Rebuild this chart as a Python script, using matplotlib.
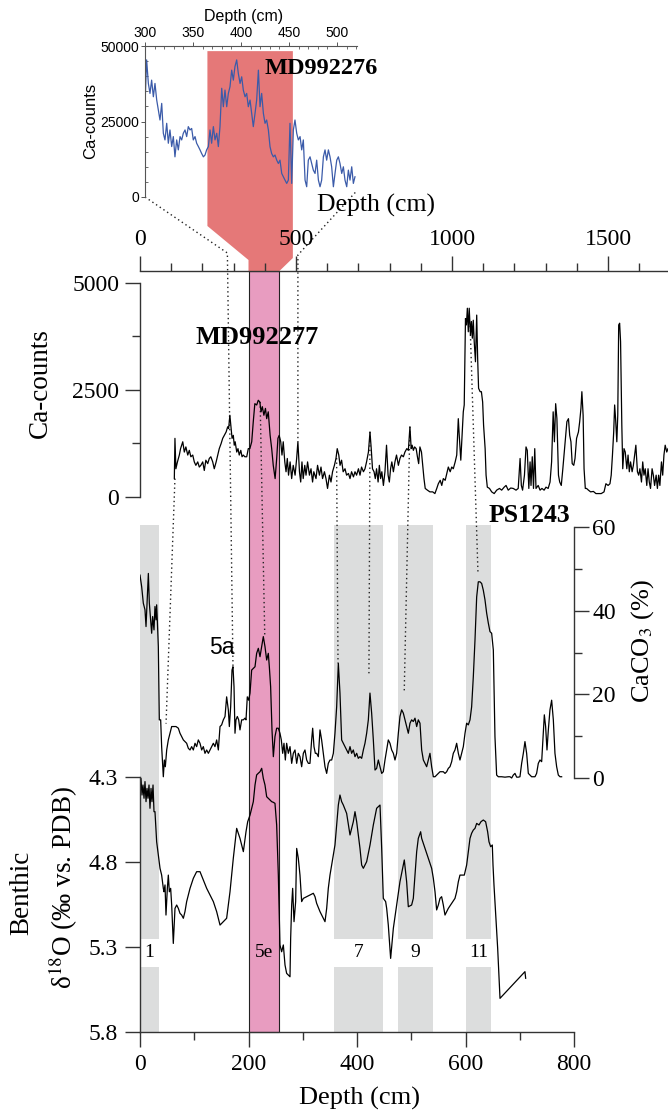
import numpy as np
import matplotlib
matplotlib.use("Agg")
import matplotlib.pyplot as plt
from matplotlib.patches import Polygon
from matplotlib.lines import Line2D
from matplotlib.transforms import blended_transform_factory
from matplotlib.ticker import MultipleLocator, FixedLocator

SERIF = ['Liberation Serif', 'DejaVu Serif']
SANS = ['Liberation Sans', 'DejaVu Sans']
plt.rcParams['font.family'] = SERIF
plt.rcParams['mathtext.fontset'] = 'stix'

# ---------------- data: MD992276 inset (depth cm, Ca counts) ----------------
in_depth = [300.0, 301.7, 303.5, 305.2, 306.9, 308.7, 310.4, 312.2, 313.9, 315.6,
            317.4, 319.1, 320.8, 322.6, 324.3, 326.0, 327.8, 329.5, 331.2, 333.0,
            334.7, 336.5, 338.2, 339.9, 341.7, 343.4, 345.1, 346.9, 348.6, 350.3,
            352.1, 353.8, 355.6, 357.3, 359.0, 360.8, 362.5, 364.2, 366.0, 367.7,
            369.4, 371.2, 372.9, 374.7, 376.4, 378.1, 379.9, 381.6, 383.3, 385.1,
            386.8, 388.5, 390.3, 392.0, 393.7, 395.5, 397.2, 399.0, 400.7, 402.4,
            404.2, 405.9, 407.6, 409.4, 411.1, 412.8, 414.6, 416.3, 418.1, 419.8,
            421.5, 423.3, 425.0, 426.7, 428.5, 430.2, 431.9, 433.7, 435.4, 437.2,
            438.9, 440.6, 442.4, 444.1, 445.8, 447.6, 449.3, 451.0, 452.8, 454.5,
            456.2, 458.0, 459.7, 461.5, 463.2, 464.9, 466.7, 468.4, 470.1, 471.9,
            473.6, 475.3, 477.1, 478.8, 480.6, 482.3, 484.0, 485.8, 487.5, 489.2,
            491.0, 492.7, 494.4, 496.2, 497.9, 499.7, 501.4, 503.1, 504.9, 506.6,
            508.3, 510.1, 511.8, 513.5, 515.3, 517.0, 518.7]
in_ca = [30500, 45400, 37600, 34300, 38700, 33200, 37600, 32100, 28800, 25500,
         31000, 21100, 18900, 24400, 17800, 22200, 16700, 20000, 13300, 18900,
         15600, 20000, 18900, 21100, 22200, 20000, 23300, 22200, 22700, 18900,
         20000, 17800, 16700, 15600, 14400, 13300, 13900, 15600, 16700, 22200,
         17800, 23300, 18900, 21100, 16700, 23300, 36000, 29900, 35400, 29900,
         34300, 36500, 42000, 38700, 43200, 45400, 40900, 37600, 39800, 35400,
         33200, 34300, 29900, 32100, 27700, 23300, 27700, 32100, 42000, 29900,
         34300, 27700, 24400, 25500, 22200, 16700, 14400, 13300, 13900, 12200,
         11100, 12200, 7800, 6700, 5600, 4500, 5600, 24400, 4500, 22200,
         25500, 21100, 18900, 20000, 15600, 18900, 5600, 3400, 12200, 13300,
         11100, 8900, 7800, 12200, 5600, 3400, 5600, 13300, 15600, 12200,
         15600, 13300, 10000, 3400, 7800, 12200, 13300, 11100, 7800, 10000,
         5600, 3400, 8900, 5600, 10000, 4500, 6700]
in_xticks = [300, 350, 400, 450, 500]
in_yticks = [0, 25000, 50000]
in_window = [365, 454]          # MD992276 depth interval highlighted in red
in_window_top = 48300

# ---------------- data: MD992277 Ca counts ----------------
md_depth = [110, 112, 115, 120, 126, 130, 137, 142, 147, 153,
            158, 163, 169, 174, 179, 185, 190, 195, 201, 206,
            211, 217, 222, 227, 233, 238, 244, 249, 254, 260,
            265, 270, 276, 281, 284, 288, 292, 295, 299, 302,
            305, 310, 314, 318, 323, 327, 331, 336, 342, 347,
            352, 358, 363, 368, 374, 379, 384, 388, 392, 397,
            402, 406, 411, 417, 422, 427, 433, 438, 442, 446,
            451, 455, 459, 464, 468, 472, 476, 481, 486, 491,
            497, 502, 506, 511, 515, 519, 523, 528, 532, 537,
            543, 548, 553, 557, 564, 569, 575, 580, 585, 591,
            596, 601, 607, 612, 617, 623, 628, 632, 637, 641,
            646, 651, 657, 662, 668, 673, 678, 684, 689, 694,
            700, 705, 710, 716, 721, 726, 732, 737, 741, 745,
            750, 754, 758, 763, 767, 771, 775, 780, 785, 790,
            795, 799, 803, 807, 812, 817, 822, 828, 833, 838,
            844, 849,
            855, 860, 865, 869, 872, 876, 880, 885, 889, 893,
            897, 902, 906, 910, 914, 921, 929, 938, 945, 951,
            956, 962, 967, 972, 978, 983, 988, 994, 999, 1004,
            1010, 1015, 1020, 1023, 1028, 1031, 1036, 1039, 1043, 1046,
            1049, 1052, 1055, 1059, 1062, 1065, 1068, 1071, 1075, 1079,
            1082, 1085, 1090, 1094, 1098, 1101, 1106, 1109, 1113, 1120,
            1127, 1135, 1143, 1152, 1159, 1167, 1173, 1180, 1188, 1196,
            1205, 1212, 1218, 1222, 1226, 1232, 1237, 1241, 1246, 1250,
            1253, 1257, 1261, 1265, 1269, 1276, 1282, 1288, 1295, 1301,
            1308, 1314, 1319, 1324, 1328, 1332, 1336, 1341, 1345, 1350,
            1355, 1360, 1364, 1368, 1373, 1377, 1381, 1385, 1390, 1394,
            1399, 1405, 1409, 1413, 1416, 1420, 1423, 1427, 1431, 1437,
            1444, 1453, 1461, 1470, 1478, 1487, 1493, 1500, 1506, 1510,
            1514, 1518, 1521, 1524, 1528, 1531, 1534, 1537, 1540, 1544,
            1547, 1551, 1555, 1560, 1564, 1568, 1572, 1577, 1581, 1585,
            1589, 1594, 1598, 1602, 1607, 1611, 1615, 1619, 1624, 1628,
            1632, 1636, 1641, 1645, 1649, 1654, 1658, 1662, 1666, 1671,
            1675, 1679, 1683, 1688, 1692]
md_ca = [430, 1370, 660, 820, 980, 1130, 1290, 1050, 1170, 980,
         1090, 940, 980, 820, 740, 820, 700, 740, 820, 620,
         860, 780, 900, 940, 820, 660, 820, 980, 1130, 1250,
         1370, 1440, 1520, 1640, 1600, 1910, 1600, 1370, 1440, 1210,
         1290, 1050, 1130, 980, 1090, 940, 980, 940, 940, 1130,
         1130, 1290, 1760, 2180, 2150, 2260, 2220, 1990, 2110, 1910,
         2070, 1830, 1990, 1440, 1130, 740, 430, 900, 1370, 1440,
         1290, 980, 1290, 820, 590, 900, 510, 820, 430, 740,
         510, 900, 1290, 590, 350, 820, 430, 740, 510, 820,
         510, 660, 350, 590, 430, 740, 510, 700, 430, 590,
         430, 200, 510, 350, 590, 740, 900, 1130, 980, 740,
         860, 590, 660, 510, 550, 430, 590, 470, 590, 510,
         660, 510, 700, 590, 660, 820, 1050, 1520, 1130, 660,
         590, 430, 660, 350, 740, 430, 590, 270, 590, 1210,
         510, 350, 660, 820, 590, 820, 980, 740, 900, 980,
         940, 1050,
         1130, 1090, 1640, 1130, 1210, 1090, 1170, 1130, 940, 780,
         1170, 1050, 740, 430, 200, 160, 120, 120, 80, 200,
         310, 390, 270, 430, 390, 550, 700, 590, 700, 660,
         820, 980, 1830, 1440, 860, 1290, 1990, 2150, 4170, 4020,
         4410, 3860, 4410, 3780, 4100, 3710, 4130, 3630, 3160, 4250,
         3240, 2540, 2460, 2460, 2220, 1680, 1130, 510, 230, 200,
         120, 80, 160, 200, 160, 230, 270, 160, 210, 200,
         160, 200, 900, 270, 160, 510, 1170, 1090, 200, 820,
         270, 940, 200, 1130, 200, 270, 160, 200, 160, 230,
         200, 350, 820, 1990, 1290, 2180, 1830, 510, 350, 270,
         660, 1090, 1440, 1760, 1830, 1440, 1290, 780, 740, 900,
         1370, 1520, 1760, 2070, 2460, 1910, 660, 200, 200, 160,
         120, 130, 80, 80, 80, 120, 310, 270, 310, 510,
         980, 1520, 2150, 1830, 1290, 1910, 4020, 4060, 3630, 1680,
         660, 1130, 1050, 660, 980, 590, 820, 590, 740, 980,
         1210, 590, 510, 660, 350, 820, 510, 660, 270, 660,
         350, 200, 660, 510, 270, 510, 200, 510, 270, 820,
         510, 980, 1210, 1050, 1130]
ca_xticks = [0, 500, 1000, 1500]
ca_yticks = [0, 2500, 5000]

# ---------------- data: PS1243 CaCO3 (%) ----------------
caco3_depth = [0.0, 3.1, 6.1, 9.2, 11.1, 13.5, 15.4, 17.2, 19.7, 21.5,
               23.3, 25.8, 27.6, 29.5, 30.7, 31.9, 33.8, 35.6, 38.1, 39.9,
               43.0, 44.9, 46.7, 49.2, 52.2, 55.3, 58.4, 61.4, 66.4, 70.7,
               73.7, 76.8, 79.9, 82.9, 86.0, 89.1, 92.2, 95.2, 98.3, 101.4,
               104.4, 107.5, 110.6, 113.7, 116.7, 119.8, 122.9, 126.0, 129.0, 132.1,
               135.2, 138.2, 141.3, 144.4, 147.5, 150.5, 153.6, 156.7, 159.7, 162.8,
               164.7, 167.1, 169.6, 171.4, 173.3, 175.1, 176.9, 179.4, 181.9, 184.3,
               187.4, 190.5, 193.5, 195.4, 197.8, 200.3, 202.8, 205.8, 208.9, 212.0,
               215.0, 218.1, 221.2, 224.3, 227.3, 230.4, 233.5, 236.5, 238.4, 240.8,
               243.3, 245.8, 248.8, 251.9, 255.0, 258.0, 260.5, 263.0, 265.4, 267.9,
               270.3, 273.4, 276.5, 279.6, 282.6, 285.7, 288.8, 291.8, 294.9, 298.0,
               301.1, 304.1, 307.2, 310.3, 313.3, 316.4, 318.3, 320.7, 323.2, 325.6,
               328.7, 331.8, 334.8, 337.9, 341.0, 344.1, 347.1, 350.2, 353.3, 356.4,
               359.4, 362.5, 365.6, 368.6, 371.7, 374.8, 377.9, 380.9, 384.0, 387.1,
               390.1, 393.2, 396.3, 399.4, 402.4, 405.5,
               408.6, 411.7, 414.7, 417.8, 420.9, 423.9, 427.0, 430.1, 433.2, 436.2,
               439.3, 442.4, 445.5, 448.5, 451.6, 454.7, 457.7, 460.8, 463.9, 467.0,
               470.0, 473.1, 476.2, 479.2, 482.3, 485.4, 488.5, 491.5, 494.6, 497.7,
               500.7, 503.8, 506.9, 510.0, 513.0, 516.1, 519.2, 522.3, 525.3, 528.4,
               531.5, 534.5, 537.6, 540.7, 543.8, 546.8, 549.9, 553.0, 556.0, 559.1,
               562.2, 565.3, 568.3, 571.4, 574.5, 577.5, 580.6, 583.7, 586.8, 589.8,
               592.9, 596.0, 599.1, 602.1, 605.2, 608.3, 611.3, 614.4, 617.5, 620.6,
               623.6, 626.7, 629.8, 632.8, 635.9, 639.0, 642.1, 645.1, 648.2, 651.3,
               654.3, 657.4, 660.5, 666.6, 672.8, 678.9, 682.0, 685.1, 688.1, 691.2,
               694.3, 697.4, 700.4, 703.5, 706.6, 709.6, 712.7, 715.8, 721.9, 728.1,
               731.1, 734.2, 737.3, 740.4, 743.4, 745.3, 747.7, 750.2, 752.7, 755.7,
               758.8, 761.9, 764.9, 768.0, 771.1, 774.2, 777.2]
caco3 = [48.5, 45.7, 41.8, 40.2, 36.2, 43.3, 48.9, 41.8, 37.8, 34.6,
         38.6, 35.4, 41.0, 37.8, 41.4, 37.8, 31.4, 13.9, 13.9, 7.5,
         0.3, 4.3, 2.7, 6.7, 9.1, 10.7, 12.3, 12.3, 12.3, 11.9,
         10.7, 9.9, 9.1, 8.7, 8.3, 7.1, 6.7, 7.5, 6.7, 8.3,
         7.5, 9.1, 8.3, 6.7, 7.5, 5.9, 6.7, 5.9, 6.7, 7.5,
         8.3, 7.5, 9.1, 6.7, 12.3, 12.7, 13.9, 14.7, 19.4, 16.3,
         12.3, 17.0, 25.8, 26.6, 21.8, 10.7, 13.9, 14.7, 13.9, 11.5,
         13.9, 13.9, 14.3, 13.9, 19.4, 18.6, 20.3, 25.8, 26.2, 26.6,
         29.8, 31.0, 29.0, 31.4, 33.8, 31.4, 28.2, 29.8, 26.6, 21.8,
         11.5, 5.1, 9.9, 11.9, 11.9, 10.7, 9.1, 5.9, 8.3, 4.3,
         8.3, 5.9, 7.5, 3.5, 5.9, 6.7, 3.5, 5.9, 5.1, 2.7,
         5.9, 6.7, 4.3, 3.5, 3.5, 9.1, 11.9, 7.5, 5.9, 5.9,
         5.1, 11.5, 9.1, 5.9, 2.7, 1.1, 3.5, 4.3, 4.3, 5.9,
         10.7, 17.0, 27.4, 20.3, 9.1, 8.3, 7.5, 6.7, 5.9, 7.5,
         5.9, 6.7, 5.1, 5.9, 4.7, 5.1,
         4.7, 6.7, 8.3, 10.7, 13.9, 20.3, 15.5, 9.1, 1.9, 2.3,
         4.3, 2.7, 1.1, 1.5, 4.3, 6.7, 9.1, 8.3, 6.7, 5.9,
         4.3, 5.9, 10.7, 14.7, 16.3, 15.5, 13.9, 12.3, 10.7, 13.1,
         13.9, 13.5, 14.3, 12.3, 13.9, 13.1, 6.7, 4.3, 3.5, 2.7,
         4.3, 5.9, 2.7, 0.3, 0.3, 0.7, 1.1, 1.5, 1.5, 1.5,
         1.1, 1.5, 2.3, 2.7, 3.9, 5.9, 6.7, 8.3, 5.9, 4.3,
         5.9, 7.5, 10.7, 13.1, 12.7, 13.9, 17.0, 24.2, 33.0, 43.3,
         46.9, 46.9, 46.5, 44.9, 42.6, 39.4, 37.0, 35.0, 34.6, 30.6,
         9.9, 0.7, 0.3, 0.3, 0.2, 0.3, 0.3, 0.0, 0.7, 1.1,
         0.2, 0.2, 0.3, 3.5, 5.9, 8.7, 5.9, 1.1, 0.3, 0.3,
         1.1, 3.5, 4.3, 3.9, 10.7, 15.1, 12.3, 6.7, 11.5, 16.3,
         18.6, 13.9, 5.9, 2.7, 0.7, 0.3, 0.3]
caco3_ticks = [0, 20, 40, 60]
caco3_minor = [10, 30, 50]

# ---------------- data: PS1243 benthic d18O ----------------
d18o_depth = [0.0, 1.8, 3.7, 5.5, 7.4, 9.2, 11.1, 12.9, 14.7, 16.6,
              18.4, 20.3, 22.1, 24.0, 25.8, 27.6, 30.7, 33.8, 36.9, 39.9,
              43.0, 44.2, 46.1, 47.9, 50.4, 52.2, 54.1, 56.5, 58.4, 61.4,
              64.5, 67.6, 70.7, 73.7, 76.8, 79.9, 82.9, 86.0, 92.2, 98.3,
              104.4, 110.6, 116.7, 122.9, 129.0, 135.2, 141.3, 147.5, 153.6, 159.7,
              165.9, 172.0, 178.2, 184.3, 190.5, 195.4, 198.5, 202.8, 208.9, 212.0,
              215.0, 218.1, 221.2, 224.3, 227.3, 230.4, 233.5, 236.5, 239.6, 242.7,
              245.8, 248.8, 251.9, 255.0, 258.0, 261.1, 264.2, 267.3, 270.3, 273.4,
              276.5, 277.7, 279.6, 281.4, 283.9, 286.9, 288.8, 291.8, 294.9, 298.0,
              301.1, 307.2, 313.3, 319.5, 322.6, 325.6, 331.8, 337.9, 341.0, 344.1,
              347.1, 350.2, 353.3, 356.4, 359.4, 362.5, 365.6, 368.6, 371.7, 374.8,
              380.9, 387.1, 393.2,
              396.3, 399.4, 402.4, 405.5, 408.6, 411.7, 414.7, 417.8, 424.0, 430.1,
              436.2, 442.4, 445.5, 448.5, 452.8, 454.7, 457.7, 462.0, 467.0, 473.1,
              479.2, 487.2, 491.5, 494.6, 500.7, 503.8, 506.9, 510.0, 513.0, 517.3,
              519.2, 525.3, 531.5, 537.6, 540.7, 543.8, 546.8, 549.9, 553.0, 556.0,
              559.1, 562.2, 565.3, 568.3, 574.5, 580.6, 583.7, 586.8, 589.8, 597.8,
              602.1, 605.2, 608.3, 611.3, 614.4, 617.5, 620.6, 624.9, 628.5, 632.8,
              637.1, 640.8, 643.3, 646.4, 649.4, 650.7, 652.5, 659.3, 663.6, 709.6,
              710.9]
d18o = [4.425, 4.308, 4.406, 4.347, 4.425, 4.327, 4.445, 4.367, 4.425, 4.347,
        4.484, 4.367, 4.445, 4.347, 4.504, 4.504, 4.681, 4.759, 4.837, 4.877,
        4.955, 4.975, 4.935, 5.112, 4.955, 4.877, 4.975, 4.955, 5.053, 5.279,
        5.073, 5.053, 5.073, 5.102, 5.112, 5.131, 5.092, 5.033, 4.955, 4.896,
        4.857, 4.857, 4.906, 4.955, 4.994, 5.033, 5.092, 5.171, 5.151, 5.131,
        4.975, 4.778, 4.602, 4.661, 4.739, 4.622, 4.563, 4.524, 4.445, 4.347,
        4.288, 4.278, 4.269, 4.249, 4.308, 4.347, 4.416, 4.425, 4.435, 4.445,
        4.449, 4.455, 4.582, 4.877, 5.288, 5.328, 5.288, 5.406, 5.455, 5.465,
        5.475, 5.249, 5.053, 4.955, 5.151, 5.033, 4.720, 4.778, 4.877, 5.033,
        5.014, 5.004, 4.994, 4.984, 5.004, 5.043, 5.092, 5.131, 5.151, 5.073,
        4.955, 4.877, 4.818, 4.759, 4.700, 4.582, 4.465, 4.406, 4.445, 4.465,
        4.514, 4.641, 4.563,
        4.504, 4.563, 4.641, 4.720, 4.818, 4.837, 4.818, 4.798, 4.700, 4.582,
        4.484, 4.465, 4.720, 5.014, 5.033, 5.073, 5.171, 5.367, 5.190, 5.053,
        4.916, 4.788, 4.916, 5.063, 5.053, 5.014, 4.877, 4.739, 4.661, 4.622,
        4.661, 4.720, 4.778, 4.837, 4.896, 4.975, 5.082, 5.053, 5.014, 5.004,
        5.053, 5.112, 5.092, 5.073, 5.043, 5.014, 4.975, 4.916, 4.877, 4.877,
        4.818, 4.739, 4.661, 4.631, 4.612, 4.602, 4.573, 4.582, 4.563, 4.553,
        4.563, 4.622, 4.681, 4.710, 4.700, 4.818, 4.935, 5.308, 5.602, 5.445,
        5.484]
d18o_ticks = [4.3, 4.8, 5.3, 5.8]
depth_ticks = [0, 200, 400, 600, 800]

# marine isotope stages (PS1243 depth, cm)
mis_labels = ['1', '7', '9', '11']
mis_start = [0, 358, 476, 601]
mis_end = [35, 448, 540, 647]
mis5e = ('5e', 200, 257)   # pink interval, PS1243 depth
label_gap = (5.25, 5.42)   # d18O interval left blank for the stage labels

# tie points (dotted correlation lines)
tie_md_depth = [112, 385, 630, 737, 865, 1058]
tie_md_ca = [430, 2220, 910, 1520, 1640, 4000]
tie_ps_depth = [48, 230, 365, 422, 487, 623]
tie_ps_caco3 = [13.0, 33.8, 27.4, 25.0, 20.3, 49.0]
inset_tie_276 = [300, 519]        # MD992276 depth
inset_tie_276_ca = [0, 1500]
inset_tie_277 = [280, 506]        # MD992277 depth
tie_5a_ps = (171.4, 26.6)
tie_right_md_ca = 1290

# ---------------- figure ----------------
W, H = 668, 1113
fig = plt.figure(figsize=(W / 100, H / 100), dpi=100)
fig.patch.set_facecolor('white')


def box(l, t, r, b):
    return [l / W, 1 - b / H, (r - l) / W, (b - t) / H]


def fxy(x, y):
    return x / W, 1 - y / H


ax_in = fig.add_axes(box(145, 46, 357, 197))
ax_ca = fig.add_axes(box(140, 271, 668, 497))
ax_b = fig.add_axes(box(140, 525, 574, 1032))
ax_c = ax_b.twinx()
for a in (ax_in, ax_ca, ax_b, ax_c):
    a.patch.set_visible(False)

SP = '#333333'
LW = 0.9

# ---- inset ----
ax_in.plot(in_depth, in_ca, color='#3B5BA9', lw=0.9)
ax_in.set_xlim(300, 520.8)
ax_in.set_ylim(0, 50000)
for s in ('right', 'bottom'):
    ax_in.spines[s].set_visible(False)
for s in ('left', 'top'):
    ax_in.spines[s].set_color('#555555')
    ax_in.spines[s].set_linewidth(0.8)
ax_in.xaxis.tick_top()
ax_in.set_xticks(in_xticks)
ax_in.set_xticklabels([str(v) for v in in_xticks], family=SANS)
ax_in.xaxis.set_minor_locator(MultipleLocator(10))
ax_in.set_yticks(in_yticks)
ax_in.set_yticklabels([str(v) for v in in_yticks], family=SANS)
ax_in.yaxis.set_minor_locator(MultipleLocator(5000))
ax_in.tick_params(which='major', length=3, width=0.7, color='#555555', labelsize=10, pad=1.5)
ax_in.tick_params(which='minor', length=2, width=0.6, color='#555555', direction='in')

# ---- MD992277 Ca ----
ax_ca.plot(md_depth, md_ca, color='black', lw=LW, clip_on=False)
ax_ca.set_xlim(0, 1692)
ax_ca.set_ylim(0, 5280)
ax_ca.spines['right'].set_visible(False)
ax_ca.spines['bottom'].set_visible(False)
ax_ca.spines['left'].set_bounds(0, 5000)
for s in ('left', 'top'):
    ax_ca.spines[s].set_color(SP)
    ax_ca.spines[s].set_linewidth(1.0)
ax_ca.xaxis.tick_top()
ax_ca.set_xticks(ca_xticks)
ax_ca.xaxis.set_minor_locator(MultipleLocator(100))
ax_ca.set_yticks(ca_yticks)
ax_ca.yaxis.set_minor_locator(MultipleLocator(1250))
ax_ca.tick_params(which='major', length=11, width=1.0, color=SP, labelsize=17, pad=4)
ax_ca.tick_params(which='minor', length=5.5, width=1.0, color=SP)

# ---- PS1243 d18O + CaCO3 ----
ax_b.plot(d18o_depth, d18o, color='black', lw=LW)
ax_b.set_xlim(0, 800)
ax_b.set_ylim(5.8, 2.8176)
ax_b.spines['top'].set_visible(False)
ax_b.spines['right'].set_visible(False)
ax_b.spines['left'].set_bounds(4.3, 5.8)
ax_b.spines['bottom'].set_bounds(0, 800)
for s in ('left', 'bottom'):
    ax_b.spines[s].set_color(SP)
    ax_b.spines[s].set_linewidth(1.0)
ax_b.set_yticks(d18o_ticks)
ax_b.set_yticklabels(['%.1f' % v for v in d18o_ticks])
ax_b.set_xticks(depth_ticks)
ax_b.xaxis.set_minor_locator(MultipleLocator(100))
ax_b.tick_params(which='major', length=11, width=1.0, color=SP, labelsize=17, pad=5)
ax_b.tick_params(which='minor', length=5.5, width=1.0, color=SP)

ax_c.plot(caco3_depth, caco3, color='black', lw=LW)
ax_c.set_ylim(-60.72, 60.48)
for s in ('left', 'top', 'bottom'):
    ax_c.spines[s].set_visible(False)
ax_c.spines['right'].set_bounds(0, 60)
ax_c.spines['right'].set_color(SP)
ax_c.spines['right'].set_linewidth(1.0)
ax_c.set_yticks(caco3_ticks)
ax_c.yaxis.set_minor_locator(FixedLocator(caco3_minor))
ax_c.tick_params(which='major', length=11, width=1.0, color=SP, labelsize=17, pad=2)
ax_c.tick_params(which='minor', length=5.5, width=1.0, color=SP)

# ---------------- figure-level shading ----------------
to_fig = fig.transFigure.inverted()

# grey stage bands
ytop = ax_b.get_ylim()[1]
for lab, a, b in zip(mis_labels, mis_start, mis_end):
    for y0, y1 in ((ytop, label_gap[0]), (label_gap[1], 5.8)):
        p = Polygon([(a, y0), (b, y0), (b, y1), (a, y1)], closed=True,
                    transform=ax_b.transData, facecolor='#DCDDDD',
                    edgecolor='none', zorder=-3)
        fig.add_artist(p)
    ax_b.text((a + b) / 2, sum(label_gap) / 2, lab,
              ha='center', va='center', fontsize=14)

# pink MIS 5e band spanning Ca and PS1243 panels
y_bot = ax_b.get_position().y0
y_top = ax_ca.get_position().y1
bt = blended_transform_factory(ax_b.transData, fig.transFigure)
pink = Polygon([(mis5e[1], y_bot), (mis5e[2], y_bot), (mis5e[2], y_top), (mis5e[1], y_top)],
               closed=True, transform=bt, facecolor='#E89CC0', edgecolor='#222222',
               lw=0.8, zorder=-2)
fig.add_artist(pink)
ax_b.text((mis5e[1] + mis5e[2]) / 2, sum(label_gap) / 2, mis5e[0],
          ha='center', va='center', fontsize=14)

# red window of MD992276 funnelling into pink band
top_disp = fig.transFigure.transform((0, y_top))[1]
xl, yt = ax_in.transData.transform((in_window[0], in_window_top))
xr, _ = ax_in.transData.transform((in_window[1], in_window_top))
bxl = ax_b.transData.transform((mis5e[1], 5.0))[0]
bxr = ax_b.transData.transform((mis5e[2], 5.0))[0]
red_disp = [(xl, yt), (xr, yt), (xr, top_disp + 13), (bxr, top_disp),
            (bxl, top_disp), (bxl, top_disp + 11), (xl, top_disp + 45)]
red = Polygon(to_fig.transform(red_disp), closed=True, transform=fig.transFigure,
              facecolor='#E57878', edgecolor='none', zorder=-2)
fig.add_artist(red)

# dotted tie lines
DOT = dict(color='#222222', lw=1.0, linestyle=(0, (1, 2.2)), zorder=-1)


def add_line(disp_pts):
    f = to_fig.transform(disp_pts)
    fig.add_artist(Line2D(f[:, 0], f[:, 1], transform=fig.transFigure, **DOT))


for md, mv, psd, psv in zip(tie_md_depth, tie_md_ca, tie_ps_depth, tie_ps_caco3):
    add_line([ax_ca.transData.transform((md, mv)),
              ax_c.transData.transform((psd, psv))])

# inset ties
p0 = ax_in.transData.transform((inset_tie_276[0], inset_tie_276_ca[0]))
bend0 = (ax_ca.transData.transform((inset_tie_277[0], 0))[0], top_disp + 18)
add_line([p0, bend0, ax_c.transData.transform(tie_5a_ps)])
p1 = ax_in.transData.transform((inset_tie_276[1], inset_tie_276_ca[1]))
bend1 = (ax_ca.transData.transform((inset_tie_277[1], 0))[0], top_disp + 16)
add_line([p1, bend1, ax_ca.transData.transform((inset_tie_277[1], tie_right_md_ca))])

# ---------------- texts ----------------
fig.text(*fxy(244, 17), 'Depth (cm)', family=SANS, fontsize=11.5, ha='center', va='center')
fig.text(*fxy(91, 121), 'Ca-counts', family=SANS, fontsize=12, rotation=90,
         ha='center', va='center')
fig.text(*fxy(265, 69), 'MD992276', fontsize=17.5, weight='bold', ha='left', va='center')
fig.text(*fxy(376, 205), 'Depth (cm)', fontsize=18.5, ha='center', va='center')
fig.text(*fxy(40, 383), 'Ca-counts', fontsize=19.5, rotation=90, ha='center', va='center')
fig.text(*fxy(257, 338), 'MD992277', fontsize=19, weight='bold', ha='center', va='center')
fig.text(*fxy(529, 516), 'PS1243', fontsize=18.5, weight='bold', ha='center', va='center')
fig.text(*fxy(222, 648), '5a', family=SANS, fontsize=16.5, ha='center', va='center')
fig.text(*fxy(643, 641), r'CaCO$_3$ (%)', fontsize=19, rotation=90, ha='center', va='center')
fig.text(*fxy(22, 893), 'Benthic', fontsize=19.5, rotation=90, ha='center', va='center')
fig.text(*fxy(63, 888), 'δ$^{18}$O (‰ vs. PDB)', fontsize=19.5, rotation=90,
         ha='center', va='center')
fig.text(*fxy(359, 1098), 'Depth (cm)', fontsize=19, ha='center', va='center')

fig.savefig('out.png', dpi=100)
